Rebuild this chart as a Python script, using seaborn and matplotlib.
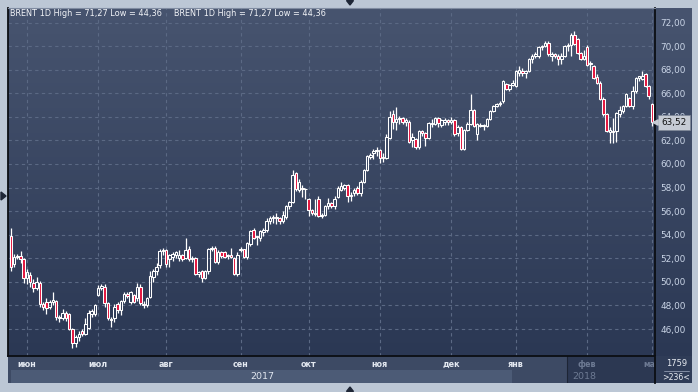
import numpy as np
import pandas as pd
import matplotlib
matplotlib.use("Agg")
import matplotlib.pyplot as plt
from matplotlib.colors import LinearSegmentedColormap
from matplotlib.patches import Rectangle, Polygon
from matplotlib.ticker import FuncFormatter
from matplotlib.transforms import blended_transform_factory
import seaborn as sns

# ---------------- data (BRENT daily candles, 25 May 2017 - 1 Mar 2018) ----------------
opens = [
    53.9, 51.5, 52.15, 52.2, 51.9, 50.3, 50.6, 49.9, 49.5, 49.9,
    48.1, 48.3, 47.9, 48.3, 48.4, 47.0, 46.9, 47.4, 47.3, 46.0,
    44.8, 45.3, 45.8, 45.6, 46.1, 47.3, 47.3, 48.9, 49.5, 49.6,
    48.2, 46.8, 46.9, 48.1, 47.6, 48.4, 48.95, 48.3, 48.9, 48.6,
    49.6, 48.1, 48.0, 48.7, 50.4, 50.9, 51.4, 52.6, 52.7, 51.9,
    52.1, 52.3, 52.0, 52.3, 52.0, 52.8, 51.9, 52.0, 50.7, 50.9,
    50.3, 50.9, 52.8, 52.9, 51.7, 52.5, 52.5, 52.2, 52.3, 52.0,
    50.7, 52.7, 52.75, 52.1, 53.2, 54.4, 53.8, 53.7, 54.2, 54.4,
    55.2, 55.4, 55.5, 55.4, 55.2, 55.5, 56.4, 56.8, 59.2, 57.8,
    58.0, 57.9, 57.0, 56.1, 55.8, 57.0, 55.6, 55.7, 56.4, 56.7,
    56.4, 57.2, 57.8, 58.0, 58.2, 57.3, 57.5, 58.0, 57.5, 58.5,
    59.5, 60.6, 60.9, 61.1, 61.2, 60.5, 60.5, 62.2, 64.2, 63.6,
    63.8, 63.9, 63.6, 63.6, 62.0, 62.1, 61.4, 62.8, 62.6, 62.2,
    63.4, 63.4, 63.9, 63.3, 63.6, 63.7, 63.6, 63.7, 62.6, 63.1,
    61.3, 62.9, 63.4, 64.6, 62.5, 63.3, 63.2, 63.2, 63.8, 64.5,
    64.9, 65.1, 65.3, 66.8, 66.4, 66.7, 66.6, 67.7, 67.9, 67.7,
    67.9, 68.9, 69.15, 69.15, 69.9, 70.0, 70.3, 69.2, 69.3, 69.2,
    68.9, 69.15, 70.0, 70.1, 70.95, 70.6, 69.4, 68.9, 69.9, 68.5,
    68.3, 67.4, 66.9, 65.5, 64.2, 62.7, 62.8, 62.8, 64.2, 64.5,
    64.9, 65.6, 64.9, 66.2, 67.3, 67.2, 67.6, 66.6, 65.1,
]
highs = [
    54.6, 52.4, 52.4, 52.6, 52.0, 51.1, 50.8, 50.2, 50.4, 50.1,
    48.3, 48.6, 48.5, 49.1, 48.5, 47.2, 47.7, 47.5, 47.4, 46.1,
    45.5, 45.8, 46.0, 46.9, 47.6, 47.7, 48.1, 49.7, 49.8, 49.8,
    48.3, 47.0, 48.1, 48.3, 48.5, 49.1, 49.1, 49.2, 49.0, 49.9,
    49.8, 48.4, 48.7, 50.9, 51.1, 51.6, 52.8, 52.9, 52.8, 52.4,
    52.5, 52.6, 52.7, 52.4, 53.7, 53.0, 52.2, 52.1, 50.9, 51.0,
    51.0, 52.9, 53.0, 53.0, 52.7, 52.6, 52.6, 52.4, 52.9, 52.1,
    52.5, 52.95, 52.8, 53.4, 54.4, 54.6, 53.9, 54.4, 54.6, 55.4,
    55.6, 55.7, 55.8, 55.5, 56.0, 56.5, 56.9, 59.5, 59.3, 58.7,
    58.2, 58.0, 57.1, 56.2, 57.0, 57.3, 55.8, 56.5, 57.1, 56.8,
    57.3, 58.1, 58.5, 58.3, 58.3, 57.6, 58.0, 58.1, 58.6, 59.6,
    60.8, 60.9, 61.3, 61.4, 61.3, 60.9, 62.5, 64.5, 64.6, 64.8,
    64.1, 64.0, 63.9, 63.7, 62.6, 62.2, 62.9, 62.9, 62.7, 63.6,
    63.8, 64.0, 64.0, 63.8, 63.9, 63.8, 64.0, 63.8, 63.3, 63.2,
    63.0, 63.6, 65.9, 64.7, 63.5, 63.5, 63.4, 63.9, 64.6, 65.0,
    65.2, 65.3, 67.1, 66.9, 66.8, 67.1, 68.0, 68.3, 68.1, 68.0,
    69.0, 69.3, 69.5, 70.0, 70.1, 70.4, 70.4, 69.5, 69.4, 69.3,
    69.4, 70.1, 70.3, 71.1, 71.27, 70.7, 69.5, 69.7, 70.1, 68.7,
    68.4, 67.6, 67.0, 65.7, 64.3, 63.1, 63.9, 64.4, 64.9, 65.0,
    66.0, 65.7, 66.6, 67.4, 67.5, 67.9, 67.7, 66.7, 65.2,
]
lows = [
    50.9, 51.3, 51.9, 51.6, 49.9, 49.8, 49.6, 49.1, 49.3, 47.9,
    47.6, 47.3, 47.7, 48.0, 46.8, 46.6, 46.8, 46.7, 45.9, 44.36,
    44.5, 45.0, 45.4, 45.5, 46.0, 47.0, 47.1, 48.8, 49.3, 47.9,
    46.8, 46.2, 46.6, 47.4, 47.2, 48.2, 48.6, 48.1, 48.2, 48.4,
    48.0, 47.8, 47.9, 48.6, 50.0, 50.6, 51.2, 52.3, 51.3, 51.3,
    51.8, 52.0, 51.8, 51.8, 51.9, 51.8, 51.7, 50.6, 50.4, 50.0,
    50.2, 50.7, 52.6, 51.6, 51.5, 52.0, 52.0, 51.9, 52.0, 50.6,
    50.5, 52.5, 52.0, 51.9, 53.0, 53.6, 53.1, 53.5, 53.9, 54.2,
    54.9, 55.0, 54.9, 54.9, 55.0, 55.3, 56.2, 56.7, 57.7, 57.6,
    57.2, 57.0, 55.6, 55.7, 55.6, 55.5, 55.4, 55.6, 56.2, 56.3,
    56.2, 57.1, 57.7, 57.8, 56.8, 56.9, 57.3, 57.4, 57.3, 58.4,
    59.4, 60.4, 60.4, 60.7, 60.1, 60.2, 60.4, 62.1, 63.0, 62.9,
    63.4, 63.4, 63.2, 61.8, 61.4, 61.3, 61.3, 62.4, 61.5, 62.1,
    63.1, 63.3, 63.1, 63.1, 63.3, 63.3, 63.4, 62.4, 62.4, 61.2,
    61.2, 62.8, 63.3, 63.1, 62.0, 63.1, 62.9, 63.1, 63.7, 64.4,
    64.8, 64.9, 65.2, 66.3, 66.2, 66.6, 66.5, 67.5, 67.5, 67.3,
    67.8, 68.6, 69.0, 69.0, 69.7, 69.9, 69.2, 68.7, 69.0, 68.4,
    68.5, 69.1, 69.6, 69.2, 70.1, 69.3, 68.8, 68.8, 68.3, 68.0,
    67.2, 66.8, 65.4, 64.1, 62.7, 61.8, 61.8, 61.9, 64.0, 64.3,
    64.8, 64.8, 64.7, 66.0, 67.0, 67.1, 66.5, 65.5, 63.2,
]
closes = [
    51.3, 52.15, 52.2, 51.9, 50.3, 50.8, 50.0, 49.5, 50.0, 48.1,
    47.9, 47.8, 48.3, 48.5, 47.0, 46.9, 47.4, 46.9, 46.0, 44.8,
    45.3, 45.6, 45.6, 46.4, 47.4, 47.5, 48.0, 49.5, 49.65, 48.2,
    46.9, 46.75, 47.9, 47.6, 48.4, 48.95, 48.8, 49.1, 48.3, 49.6,
    48.2, 48.0, 48.6, 50.5, 50.9, 51.3, 52.6, 52.7, 51.5, 52.3,
    52.4, 52.5, 52.3, 51.9, 52.7, 51.9, 52.0, 50.7, 50.85, 50.3,
    50.9, 52.8, 52.9, 51.7, 52.5, 52.2, 52.1, 52.3, 52.1, 50.7,
    52.3, 52.8, 52.1, 53.3, 54.3, 53.7, 53.8, 54.3, 54.4, 55.2,
    55.4, 55.5, 55.4, 55.2, 55.7, 56.4, 56.8, 59.1, 57.9, 58.5,
    57.9, 57.85, 56.1, 55.8, 55.75, 55.6, 55.6, 56.4, 56.7, 56.4,
    57.0, 58.0, 58.1, 58.2, 57.3, 57.4, 57.8, 57.5, 58.5, 59.5,
    60.7, 60.8, 61.1, 61.2, 60.5, 60.6, 62.3, 64.0, 63.6, 63.8,
    63.9, 63.6, 63.7, 61.9, 62.3, 61.4, 62.8, 62.6, 62.2, 63.5,
    63.4, 63.9, 63.5, 63.7, 63.7, 63.6, 63.75, 62.5, 63.1, 61.3,
    62.9, 63.4, 64.6, 63.2, 63.4, 63.2, 63.3, 63.8, 64.5, 64.9,
    65.1, 65.2, 67.0, 66.4, 66.7, 66.9, 67.9, 68.0, 67.7, 67.85,
    68.9, 69.15, 69.3, 69.9, 70.0, 70.3, 69.3, 69.3, 69.2, 68.9,
    69.2, 70.0, 70.1, 70.95, 70.2, 69.4, 68.9, 69.2, 68.4, 68.6,
    67.3, 66.9, 65.5, 64.2, 62.8, 62.85, 62.7, 64.3, 64.6, 64.9,
    65.9, 64.9, 66.2, 67.3, 67.45, 67.45, 66.6, 65.75, 63.52,
]
month_labels = ["июн", "июл", "авг", "сен", "окт", "ноя", "дек", "янв", "фев", "мар"]
month_first_candle = [5, 27, 48, 71, 92, 114, 136, 156, 178, 198]
year_labels = ["2017", "2018"]
price_ticks = [46, 48, 50, 52, 54, 56, 58, 60, 62, 64, 66, 68, 70, 72]
title = "BRENT 1D High = 71,27 Low = 44,36"
last_price = 63.52
counter_top = "1759"
counter_bottom = ">236<"

# ---------------- style ----------------
sns.set_theme(style="dark")
plt.rcParams["font.family"] = ["DejaVu Sans"]

W, H = 698, 392
FRAME = "#bcc7d5"
TOP = "#47546f"
BOT = "#2b3854"
GRID = "#5b6984"
RED = "#e3163f"
TXT = "#c9d4e6"
DIM = "#6d7a93"
LINE = "#0b0e13"


def px_rect(x0, y0, x1, y1):
    return [x0 / W, 1 - y1 / H, (x1 - x0) / W, (y1 - y0) / H]


def px_pt(x, y):
    return (x / W, 1 - y / H)


fig = plt.figure(figsize=(W / 100, H / 100), dpi=100)
fig.patch.set_facecolor(FRAME)

grad = np.linspace(0, 1, 256).reshape(-1, 1)
cmap = LinearSegmentedColormap.from_list("bg", [TOP, BOT])

# right price panel background
axr = fig.add_axes(px_rect(655, 8, 692, 356))
axr.imshow(grad, aspect="auto", cmap=cmap, extent=[0, 1, 0, 1])
axr.set_axis_off()
axr.set_zorder(1)

# bottom time band
axb = fig.add_axes(px_rect(8, 356, 655, 383))
axb.set_xlim(0, 1)
axb.set_ylim(0, 1)
axb.set_axis_off()
axb.set_zorder(1)
axb.add_patch(Rectangle((0, 0.48), 0.864, 0.52, color="#3d4a64", lw=0))
axb.add_patch(Rectangle((0, 0), 0.0046, 0.48, color="#3d4a64", lw=0))
axb.add_patch(Rectangle((0.0046, 0), 0.779 - 0.0046, 0.48, color="#4c5b76", lw=0))
axb.add_patch(Rectangle((0.779, 0), 0.085, 0.48, color="#3d4a64", lw=0))
axb.add_patch(Rectangle((0.864, 0), 0.136, 1, color="#2c3852", lw=0))
axb.axvline(0.864, color="#1d2535", lw=0.8)
axb.text(0.393, 0.24, year_labels[0], ha="center", va="center", fontsize=6.8, color="#e0e6ef")
axb.text(0.89, 0.24, year_labels[1], ha="center", va="center", fontsize=6.8, color=DIM)

# main chart
ax = fig.add_axes(px_rect(8, 8, 655, 356))
ax.set_zorder(2)
df = pd.DataFrame({"open": opens, "high": highs, "low": lows, "close": closes})
df["pos"] = np.arange(len(df))
xlim = (-0.86, len(df) - 1 + 0.93)
ylim = (43.71, 73.23)
ax.imshow(grad, aspect="auto", cmap=cmap, extent=[xlim[0], xlim[1], ylim[0], ylim[1]], zorder=-1)

up = (df["close"] >= df["open"]).to_numpy()
body_lo = df[["open", "close"]].min(axis=1)
body_hi = df[["open", "close"]].max(axis=1)
ax.vlines(df["pos"], df["low"], body_lo, color="white", lw=0.9, zorder=3)
ax.vlines(df["pos"], body_hi, df["high"], color="white", lw=0.9, zorder=3)
height = (body_hi - body_lo).clip(lower=0.06)
faces = ["none" if u else RED for u in up]
ax.bar(df["pos"], height, bottom=body_lo, width=0.78, color=faces,
       edgecolor="white", linewidth=0.75, zorder=4)

ax.set_xlim(*xlim)
ax.set_ylim(*ylim)

ax.set_yticks(price_ticks)
ax.yaxis.tick_right()
ax.yaxis.set_major_formatter(FuncFormatter(lambda v, p: f"{v:.2f}".replace(".", ",")))
ax.tick_params(axis="y", length=0, pad=4, labelsize=6.4, labelcolor=TXT)
ax.set_xticks(month_first_candle)
ax.set_xticklabels(month_labels, fontweight="bold")
ax.tick_params(axis="x", length=0, pad=3, labelsize=5.8, labelcolor="#e4e9f1")
for lab in ax.get_xticklabels()[8:]:
    lab.set_color(DIM)
ax.grid(True, color=GRID, linestyle=(0, (3, 3)), linewidth=0.8)
ax.set_axisbelow(True)
for side in ["bottom", "right", "left"]:
    ax.spines[side].set_visible(True)
    ax.spines[side].set_color(LINE)
    ax.spines[side].set_linewidth(1.3)
ax.spines["top"].set_visible(True)
ax.spines["top"].set_color("#7f8ba0")
ax.spines["top"].set_linewidth(0.8)

# last price marker (covers part of the 64,00 label, as in the original terminal)
ax.annotate(f"{last_price:.2f}".replace(".", ","), xy=(1.0, last_price),
            xycoords=("axes fraction", "data"), xytext=(4.5, 0), textcoords="offset points",
            ha="left", va="center", fontsize=6.4, color="#111111",
            bbox=dict(boxstyle="square,pad=0.35", fc="#c6cbd4", ec="#7d8696", lw=0.5),
            annotation_clip=False, zorder=10)
ax.scatter([1.0], [last_price], transform=blended_transform_factory(ax.transAxes, ax.transData),
           marker="<", s=14, color="#c6cbd4", clip_on=False, zorder=10)

# title texts
fig.text(*px_pt(10, 13.5), title, ha="left", va="center", fontsize=5.85, color="#f2f4f8")
fig.text(*px_pt(174, 13.5), title, ha="left", va="center", fontsize=5.85, color="#f2f4f8")

# bottom-right counter box
axc = fig.add_axes(px_rect(655, 356, 692, 383))
axc.set_zorder(3)
axc.set_facecolor("#2f3c57")
axc.set_xticks([])
axc.set_yticks([])
axc.set_xlim(0, 1)
axc.set_ylim(0, 1)
for side in ["top", "right", "bottom"]:
    axc.spines[side].set_visible(False)
axc.spines["left"].set_visible(True)
axc.spines["left"].set_color(LINE)
axc.spines["left"].set_linewidth(1.3)
axc.text(0.58, 0.72, counter_top, ha="center", va="center", fontsize=6.0, color="#e8ecf2")
axc.text(0.58, 0.22, counter_bottom, ha="center", va="center", fontsize=5.6, color="#e8ecf2")
axc.plot([0.25, 0.93], [0.45, 0.45], color="#8f9ab0", lw=0.6)

# frame arrows
arrow_c = "#1e2636"
fig.patches.append(Polygon([px_pt(346.5, 0.5), px_pt(353.5, 0.5), px_pt(350, 5)], closed=True,
                           transform=fig.transFigure, color=arrow_c))
fig.patches.append(Polygon([px_pt(346.5, 391.5), px_pt(353.5, 391.5), px_pt(350, 387)], closed=True,
                           transform=fig.transFigure, color=arrow_c))
fig.patches.append(Polygon([px_pt(1, 192), px_pt(1, 200), px_pt(6, 196)], closed=True,
                           transform=fig.transFigure, color=arrow_c))

fig.savefig("out.png", dpi=100, facecolor=FRAME)
